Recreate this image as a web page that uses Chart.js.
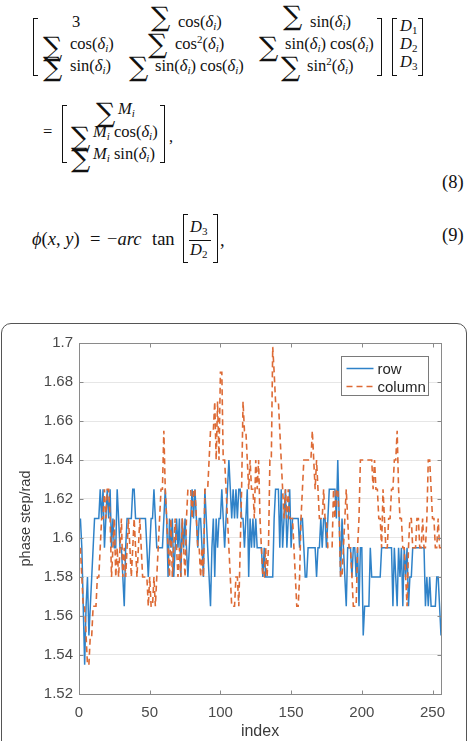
<!DOCTYPE html>
<html><head><meta charset="utf-8">
<script src="https://cdn.jsdelivr.net/npm/chart.js@4.4.0/dist/chart.umd.min.js"></script>
<style>
html,body{margin:0;padding:0;background:#fff;width:469px;height:741px;overflow:hidden;position:relative;}
.m{position:absolute;font-family:'Liberation Serif','DejaVu Serif',serif;font-size:16.5px;line-height:18px;white-space:nowrap;color:#111;}
.m.b{font-size:18.5px;line-height:20px;}
.m sub{font-size:11px;vertical-align:-3px;line-height:0;}
.m sup{font-size:11px;vertical-align:6px;line-height:0;}
.s{position:absolute;font-family:'DejaVu Serif',serif;font-size:27px;line-height:27px;color:#111;}
.bl,.br{position:absolute;border:1.4px solid #111;width:5px;box-sizing:border-box;}
.bl{border-right:none}.br{border-left:none}
.fb{position:absolute;border-top:1px solid #111;height:0;}
#frame{position:absolute;left:1px;top:323px;width:466px;height:440px;border:1.5px solid #555;border-radius:10px;box-sizing:border-box;}
#wrap{position:absolute;left:0;top:323px;width:469px;height:418px;}
</style></head><body>
<!-- equation (8) -->
<div class="bl" style="left:33px;top:18px;height:58px"></div>
<div class="br" style="left:377px;top:18px;height:58px"></div>
<span class="m" style="left:72px;top:13px">3</span>
<span class="s" style="left:151px;top:3px">∑</span><span class="m" style="left:178px;top:13px">cos(<i>δ<sub>i</sub></i>)</span>
<span class="s" style="left:283px;top:2px">∑</span><span class="m" style="left:310px;top:13px">sin(<i>δ<sub>i</sub></i>)</span>
<span class="s" style="left:43px;top:33px">∑</span><span class="m" style="left:70px;top:35px">cos(<i>δ<sub>i</sub></i>)</span>
<span class="s" style="left:148px;top:30px">∑</span><span class="m" style="left:175px;top:35px">cos<sup>2</sup>(<i>δ<sub>i</sub></i>)</span>
<span class="s" style="left:259px;top:33px">∑</span><span class="m" style="left:285px;top:35px">sin(<i>δ<sub>i</sub></i>) cos(<i>δ<sub>i</sub></i>)</span>
<span class="s" style="left:43px;top:53px">∑</span><span class="m" style="left:70px;top:57px">sin(<i>δ<sub>i</sub></i>)</span>
<span class="s" style="left:129px;top:53px">∑</span><span class="m" style="left:155px;top:57px">sin(<i>δ<sub>i</sub></i>) cos(<i>δ<sub>i</sub></i>)</span>
<span class="s" style="left:281px;top:53px">∑</span><span class="m" style="left:307px;top:57px">sin<sup>2</sup>(<i>δ<sub>i</sub></i>)</span>
<div class="bl" style="left:392px;top:18px;height:58px"></div>
<div class="br" style="left:418px;top:18px;height:58px"></div>
<span class="m" style="left:400px;top:17px"><i>D</i><sub>1</sub></span>
<span class="m" style="left:400px;top:35px"><i>D</i><sub>2</sub></span>
<span class="m" style="left:400px;top:53px"><i>D</i><sub>3</sub></span>
<span class="m" style="left:43px;top:123px">=</span>
<div class="bl" style="left:62px;top:105px;height:58px"></div>
<div class="br" style="left:160px;top:105px;height:58px"></div>
<span class="s" style="left:96px;top:99px">∑</span><span class="m" style="left:118px;top:100px"><i>M<sub>i</sub></i></span>
<span class="s" style="left:71px;top:123px">∑</span><span class="m" style="left:93px;top:123px"><i>M<sub>i</sub></i> cos(<i>δ<sub>i</sub></i>)</span>
<span class="s" style="left:71px;top:144px">∑</span><span class="m" style="left:93px;top:145px"><i>M<sub>i</sub></i> sin(<i>δ<sub>i</sub></i>)</span>
<span class="m" style="left:169px;top:128px">,</span>
<span class="m b" style="left:442px;top:172px">(8)</span>
<!-- equation (9) -->
<span class="m b" style="left:32px;top:229px"><i>ϕ</i>(<i>x</i>, <i>y</i>)</span>
<span class="m b" style="left:90px;top:229px">=</span>
<span class="m b" style="left:107px;top:229px">−<i>arc</i></span>
<span class="m b" style="left:152px;top:229px">tan</span>
<div class="bl" style="left:183px;top:214px;height:49px"></div>
<div class="br" style="left:213px;top:214px;height:49px"></div>
<span class="m" style="left:190px;top:218px"><i>D</i><sub>3</sub></span>
<div class="fb" style="left:189px;top:240px;width:22px"></div>
<span class="m" style="left:190px;top:241px"><i>D</i><sub>2</sub></span>
<span class="m b" style="left:220px;top:230px">,</span>
<span class="m b" style="left:442px;top:225px">(9)</span>

<div id="frame"></div>
<div id="wrap"><canvas id="c" width="469" height="418"></canvas></div>
<script>
const seriesNames = ['row', 'column'];
const xTicks = [0, 50, 100, 150, 200, 250];
const yTicks = [1.52, 1.54, 1.56, 1.58, 1.6, 1.62, 1.64, 1.66, 1.68, 1.7];
const rowValues = [
1.61,1.595,1.565,1.535,1.565,1.58,1.55,1.565,1.58,1.595,
1.61,1.61,1.61,1.61,1.625,1.61,1.625,1.595,1.61,1.625,
1.61,1.625,1.595,1.61,1.595,1.595,1.625,1.61,1.595,1.595,
1.58,1.565,1.595,1.61,1.61,1.61,1.61,1.625,1.625,1.61,
1.61,1.61,1.61,1.61,1.61,1.61,1.61,1.595,1.58,1.595,
1.61,1.61,1.625,1.61,1.595,1.595,1.595,1.595,1.595,1.61,
1.625,1.61,1.58,1.61,1.595,1.61,1.58,1.595,1.61,1.595,
1.61,1.58,1.61,1.595,1.61,1.595,1.58,1.595,1.61,1.625,
1.61,1.625,1.61,1.595,1.61,1.61,1.595,1.58,1.625,1.61,
1.595,1.58,1.565,1.595,1.61,1.58,1.61,1.595,1.61,1.61,
1.625,1.61,1.595,1.61,1.625,1.64,1.625,1.61,1.625,1.61,
1.625,1.61,1.625,1.625,1.61,1.61,1.595,1.61,1.625,1.58,
1.61,1.595,1.61,1.595,1.61,1.595,1.595,1.595,1.595,1.58,
1.595,1.58,1.58,1.58,1.58,1.58,1.58,1.61,1.625,1.625,
1.625,1.595,1.625,1.595,1.61,1.625,1.595,1.61,1.625,1.595,
1.61,1.61,1.61,1.61,1.61,1.595,1.61,1.61,1.595,1.58,
1.58,1.595,1.595,1.595,1.595,1.595,1.595,1.58,1.595,1.595,
1.61,1.595,1.61,1.61,1.595,1.61,1.625,1.625,1.625,1.625,
1.625,1.61,1.64,1.61,1.58,1.61,1.595,1.58,1.565,1.595,
1.595,1.595,1.58,1.595,1.595,1.58,1.595,1.565,1.595,1.595,
1.55,1.565,1.565,1.565,1.565,1.595,1.58,1.58,1.58,1.58,
1.58,1.58,1.58,1.595,1.595,1.595,1.595,1.595,1.595,1.595,
1.595,1.565,1.595,1.58,1.565,1.595,1.58,1.595,1.565,1.595,
1.58,1.595,1.565,1.58,1.58,1.595,1.595,1.595,1.595,1.595,
1.595,1.595,1.595,1.595,1.565,1.58,1.565,1.58,1.565,1.565,
1.565,1.565,1.58,1.58,1.565,1.55];
const columnValues = [
1.595,1.58,1.565,1.565,1.55,1.535,1.535,1.55,1.55,1.565,
1.565,1.565,1.58,1.58,1.595,1.61,1.61,1.625,1.61,1.625,
1.625,1.61,1.58,1.595,1.61,1.58,1.595,1.58,1.595,1.61,
1.58,1.595,1.58,1.595,1.61,1.595,1.58,1.595,1.61,1.595,
1.58,1.595,1.61,1.595,1.58,1.58,1.58,1.58,1.565,1.58,
1.565,1.565,1.58,1.565,1.58,1.595,1.61,1.625,1.625,1.655,
1.625,1.61,1.595,1.58,1.61,1.58,1.595,1.61,1.595,1.58,
1.595,1.58,1.61,1.595,1.58,1.61,1.625,1.625,1.625,1.61,
1.625,1.625,1.61,1.595,1.595,1.58,1.595,1.58,1.625,1.625,
1.625,1.64,1.655,1.655,1.655,1.67,1.64,1.67,1.64,1.685,
1.685,1.64,1.64,1.625,1.61,1.595,1.58,1.565,1.565,1.565,
1.58,1.58,1.565,1.595,1.625,1.67,1.655,1.655,1.64,1.625,
1.64,1.625,1.625,1.61,1.64,1.625,1.64,1.61,1.595,1.58,
1.58,1.595,1.58,1.595,1.64,1.64,1.698,1.685,1.67,1.67,
1.67,1.655,1.64,1.625,1.61,1.625,1.61,1.625,1.61,1.61,
1.61,1.595,1.58,1.565,1.565,1.58,1.61,1.625,1.64,1.64,
1.64,1.64,1.64,1.64,1.655,1.64,1.625,1.64,1.625,1.61,
1.61,1.61,1.625,1.61,1.61,1.595,1.595,1.595,1.595,1.625,
1.61,1.625,1.625,1.61,1.58,1.58,1.595,1.61,1.625,1.61,
1.595,1.595,1.58,1.565,1.565,1.565,1.595,1.61,1.64,1.64,
1.64,1.64,1.64,1.64,1.64,1.64,1.64,1.625,1.64,1.625,
1.625,1.61,1.61,1.595,1.625,1.61,1.595,1.595,1.61,1.61,
1.625,1.625,1.64,1.64,1.655,1.625,1.61,1.61,1.595,1.595,
1.58,1.565,1.595,1.61,1.61,1.595,1.595,1.595,1.61,1.61,
1.595,1.595,1.61,1.595,1.595,1.61,1.64,1.64,1.625,1.61,
1.61,1.595,1.595,1.61,1.595,1.595];

const toPoints = vals => vals.map((v, i) => ({x: i + 1, y: v}));
const tickFont = {family: "'Liberation Sans', Arial, sans-serif", size: 15};

const framePlugin = {
  id: 'matlabFrame',
  afterDatasetsDraw(chart) {
    const {ctx, chartArea: a, scales: {x, y}} = chart;
    ctx.save();
    ctx.strokeStyle = '#8a8a8a';
    ctx.lineWidth = 1;
    ctx.setLineDash([]);
    const L = Math.round(a.left) + 0.5, T = Math.round(a.top) + 0.5;
    const R = Math.round(a.right) + 0.5, B = Math.round(a.bottom) + 0.5;
    ctx.strokeRect(L, T, R - L, B - T);
    ctx.beginPath();
    xTicks.forEach(v => {
      const px = Math.round(x.getPixelForValue(v)) + 0.5;
      ctx.moveTo(px, B); ctx.lineTo(px, B - 4);
      ctx.moveTo(px, T); ctx.lineTo(px, T + 4);
    });
    yTicks.forEach(v => {
      const py = Math.round(y.getPixelForValue(v)) + 0.5;
      ctx.moveTo(L, py); ctx.lineTo(L + 4, py);
      ctx.moveTo(R, py); ctx.lineTo(R - 4, py);
    });
    ctx.stroke();
    // legend box
    const lw = 87, lh = 39;
    const lx = Math.round(a.right - 100) + 0.5, ly = Math.round(a.top + 13) + 0.5;
    ctx.fillStyle = '#fff';
    ctx.fillRect(lx, ly, lw, lh);
    ctx.strokeStyle = '#7a7a7a';
    ctx.strokeRect(lx, ly, lw, lh);
    chart.data.datasets.forEach((ds, i) => {
      const yy = ly + 12 + i * 18;
      ctx.strokeStyle = ds.borderColor;
      ctx.lineWidth = ds.borderWidth;
      ctx.setLineDash(ds.borderDash || []);
      ctx.beginPath();
      ctx.moveTo(lx + 5, yy); ctx.lineTo(lx + 32, yy);
      ctx.stroke();
      ctx.setLineDash([]);
      ctx.fillStyle = '#262626';
      ctx.font = "15px 'Liberation Sans', Arial, sans-serif";
      ctx.textBaseline = 'middle';
      ctx.textAlign = 'left';
      ctx.fillText(ds.label, lx + 36, yy + 1);
    });
    ctx.restore();
  }
};

new Chart(document.getElementById('c'), {
  type: 'line',
  data: {
    datasets: [
      {label: seriesNames[0], data: toPoints(rowValues), borderColor: '#2f82c8', borderWidth: 1.5, pointRadius: 0, tension: 0, order: 1},
      {label: seriesNames[1], data: toPoints(columnValues), borderColor: '#dd6a35', borderWidth: 1.6, borderDash: [6, 4], pointRadius: 0, tension: 0, order: 0}
    ]
  },
  options: {
    responsive: false,
    animation: false,
    devicePixelRatio: 1,
    layout: {padding: {left: 0, right: 28, top: 20, bottom: 0}},
    plugins: {legend: {display: false}, tooltip: {enabled: false}},
    scales: {
      x: {
        type: 'linear', min: 0, max: 256,
        afterBuildTicks: s => { s.ticks = xTicks.map(v => ({value: v})); },
        afterFit: s => { s.height = 47; },
        grid: {display: false, drawTicks: false},
        border: {display: false},
        ticks: {font: tickFont, color: '#4a4a4a', padding: 10, maxRotation: 0},
        title: {display: true, text: 'index', font: {family: "'Liberation Sans', Arial, sans-serif", size: 16}, color: '#3a3a3a', padding: {top: 0, bottom: 0}}
      },
      y: {
        type: 'linear', min: 1.52, max: 1.7,
        afterBuildTicks: s => { s.ticks = yTicks.map(v => ({value: v})); },
        afterFit: s => { s.width = 79; },
        grid: {color: '#e6e6e6', lineWidth: 1, drawTicks: false},
        border: {display: false},
        ticks: {font: tickFont, color: '#4a4a4a', padding: 6, callback: v => String(+Number(v).toFixed(2))},
        title: {display: true, text: 'phase step/rad', font: {family: "'Liberation Sans', Arial, sans-serif", size: 14.5}, color: '#3a3a3a', padding: {top: 17, bottom: 0}}
      }
    }
  },
  plugins: [framePlugin]
});
</script>
</body></html>
